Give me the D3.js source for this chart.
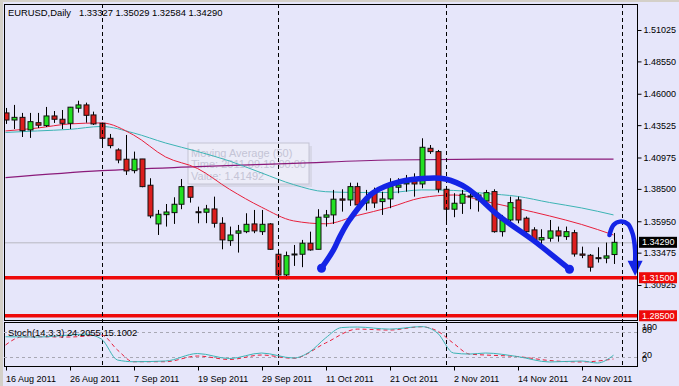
<!DOCTYPE html>
<html><head><meta charset="utf-8">
<script src="https://cdn.jsdelivr.net/npm/d3@7/dist/d3.min.js"></script>
<style>
html,body{margin:0;padding:0;background:#e6e6fa;}
svg{display:block;font-family:"Liberation Sans",Arial,sans-serif;}
</style></head>
<body><svg id="chart" width="679" height="386"></svg>
<script>
// ---------- DATA ----------
const title = "EURUSD,Daily";
const titleValues = "1.33327 1.35029 1.32584 1.34290";
const stochLabel = "Stoch(14,3,3) 24.2055 15.1002";

const dates = ["08-16","08-17","08-18","08-19","08-22","08-23","08-24","08-25","08-26","08-29","08-30","08-31",
"09-01","09-02","09-05","09-06","09-07","09-08","09-09","09-12","09-13","09-14","09-15","09-16","09-19","09-20","09-21","09-22","09-23","09-26","09-27","09-28","09-29","09-30",
"10-03","10-04","10-05","10-06","10-07","10-10","10-11","10-12","10-13","10-14","10-17","10-18","10-19","10-20","10-21","10-24","10-25","10-26","10-27","10-28","10-31",
"11-01","11-02","11-03","11-04","11-07","11-08","11-09","11-10","11-11","11-14","11-15","11-16","11-17","11-18","11-21","11-22","11-23","11-24","11-25","11-28","11-29","11-30"];

const open = [1.4449,1.4393,1.4414,1.4315,1.4372,1.4349,1.4425,1.4399,1.4367,1.4486,
1.4512,1.4433,1.4367,1.4249,1.4157,1.4084,1.3994,1.4086,1.3879,1.3574,
1.3647,1.3663,1.3729,1.3868,1.3670,1.3666,1.3692,1.3579,1.3442,1.3501,
1.3513,1.3574,1.3513,1.3574,1.3335,1.3172,1.3331,1.3335,1.3422,1.3374,
1.3627,1.3645,1.3771,1.3763,1.3868,1.3739,1.3818,1.3750,1.3771,1.3863,
1.3889,1.3907,1.3889,1.4170,1.4144,1.3847,1.3690,1.3737,1.3787,1.3802,
1.3755,1.3829,1.3513,1.3605,1.3763,1.3619,1.3527,1.3448,1.3461,1.3519,
1.3474,1.3505,1.3337,1.3327,1.3308,1.3304,1.33327];
const high = [1.4488,1.4512,1.4449,1.4449,1.4449,1.4496,1.4464,1.4472,1.4496,1.4545,
1.4530,1.4459,1.4372,1.4283,1.4170,1.4275,1.4144,1.4086,1.3934,1.3684,
1.3731,1.3784,1.3928,1.3873,1.3710,1.3724,1.3789,1.3627,1.3553,1.3566,
1.3658,1.3684,1.3684,1.3580,1.3369,1.3356,1.3408,1.3448,1.3513,1.3690,
1.3684,1.3842,1.3847,1.3899,1.3899,1.3842,1.3860,1.3828,1.3934,1.3934,
1.3960,1.3973,1.4249,1.4196,1.4157,1.3847,1.3816,1.3842,1.3855,1.3816,
1.3842,1.3847,1.3645,1.3789,1.3789,1.3632,1.3548,1.3532,1.3605,1.3553,
1.3553,1.3527,1.3395,1.3337,1.3390,1.3427,1.35029];
const low = [1.4362,1.4322,1.4259,1.4252,1.4330,1.4338,1.4370,1.4322,1.4322,1.4451,
1.4372,1.4354,1.4204,1.4170,1.4052,1.3960,1.3973,1.3863,1.3619,1.3487,
1.3553,1.3574,1.3690,1.3742,1.3579,1.3580,1.3545,1.3374,1.3401,1.3348,
1.3501,1.3501,1.3487,1.3369,1.3125,1.3138,1.3243,1.3233,1.3363,1.3374,
1.3553,1.3574,1.3671,1.3716,1.3710,1.3680,1.3700,1.3645,1.3698,1.3816,
1.3828,1.3789,1.3855,1.4126,1.3821,1.3584,1.3627,1.3653,1.3690,1.3671,
1.3742,1.3505,1.3474,1.3579,1.3579,1.3501,1.3422,1.3408,1.3434,1.3434,
1.3448,1.3316,1.3304,1.3198,1.3269,1.3264,1.32584];
const close = [1.4393,1.4414,1.4309,1.4380,1.4352,1.4425,1.4399,1.4367,1.4494,1.4512,
1.4430,1.4362,1.4249,1.4191,1.4078,1.3992,1.4084,1.3868,1.3637,1.3650,
1.3668,1.3729,1.3868,1.3784,1.3668,1.3692,1.3579,1.3448,1.3487,1.3519,
1.3571,1.3519,1.3571,1.3374,1.3172,1.3324,1.3337,1.3422,1.3369,1.3627,
1.3645,1.3769,1.3761,1.3868,1.3724,1.3771,1.3739,1.3771,1.3868,1.3881,
1.3899,1.3889,1.4178,1.4144,1.3847,1.3690,1.3737,1.3808,1.3795,1.3763,
1.3821,1.3513,1.3605,1.3742,1.3605,1.3513,1.3448,1.3466,1.3519,1.3479,
1.3513,1.3337,1.3327,1.3233,1.3303,1.3322,1.34290];

// moving averages (bar index -> value)
const maIdx = [0,4,8,12,16,20,24,28,32,36,40,44,48,52,56,60,64,68,72,76];
const maFast = [1.4307,1.4330,1.4362,1.4370,1.4275,1.4102,1.4011,1.3847,1.3706,1.3598,1.3575,1.3641,1.3704,1.3780,1.3802,1.3751,1.3696,1.3637,1.3570,1.3487];
const ma50 = [1.4295,1.4307,1.4319,1.4342,1.4291,1.4212,1.4145,1.4070,1.3976,1.3884,1.3828,1.3822,1.3822,1.3842,1.3838,1.3814,1.3791,1.3743,1.3700,1.3645];
const maSlowIdx = [0,12,24,36,48,60,76];
const maSlow = [1.3939,1.3994,1.4025,1.4051,1.4078,1.4084,1.4084];

// stochastic (main + signal)
const stMainIdx = [0,4,8,10,12,14,16,20,24,28,32,36,38,40,42,44,48,52,54,56,58,60,64,68,72,74,76];
const stMain = [68.6,68,72.7,75,63,12.7,8.6,10.3,28.3,16.3,29.5,17.5,32,65.5,90.7,92,87,93,77.5,29.5,27,29.5,21,8,10.3,5.5,24.2];
const stSigIdx = [0,2,4,8,12,14,16,20,24,28,32,36,40,44,48,52,54,56,58,60,64,68,72,76];
const stSig = [48.7,68,68.6,68,72.7,36.7,8.6,8.6,22.3,14,24.7,16.8,53.5,87,84.7,92.6,82.3,52.8,27,24.7,21,11.5,8,15.1];
const stLevels = [80,20];
const stAxisLabels = [100,80,20,0];

// axes
const priceTicks = [1.51025,1.48550,1.46000,1.43525,1.40975,1.38500,1.35950,1.33475,1.30925];
const dateTickIdx = [0,8,16,24,32,40,48,56,64,72];
const dateTickLabels = ["16 Aug 2011","26 Aug 2011","7 Sep 2011","19 Sep 2011","29 Sep 2011","11 Oct 2011","21 Oct 2011","2 Nov 2011","14 Nov 2011","24 Nov 2011"];
const separatorIdx = [12,34,55,77];

// horizontal levels
const currentPrice = 1.34290;
const supportLevels = [1.31500,1.28500];

// annotations (bar index, price)
const arcIdx = [39.5,41.0,41.8,43.0,45.9,49.3,52.7,55.0,57.7,61.8,65.9,70.5];
const arcPrice = [1.3225,1.3369,1.3474,1.3605,1.3818,1.3907,1.3934,1.3928,1.3855,1.3631,1.3448,1.3217];
const arrowIdx = [75.5,76.0,76.8,77.8,78.4,78.7,78.7];
const arrowPrice = [1.3487,1.3566,1.3592,1.3574,1.3495,1.3369,1.3267];
const arrowTip = [78.7,1.3164];

const tooltipLines = ["Moving Average (50)","Time: 2011.09.19 00:00","Value: 1.41492"];

// ---------- LAYOUT ----------
const L=4, R=637, T=4, B=320, sT=322, sB=366;
const svg = d3.select("#chart");
const x = d3.scaleLinear().domain([0,77]).range([5.5,621.5]);
const y = d3.scaleLinear().domain([1.28167,1.53074]).range([B,T]);
const ys = d3.scaleLinear().domain([0,100]).range([365.3,323.7]);

svg.append("rect").attr("width",679).attr("height",386).attr("fill","#e6e6fa");
// window edge strips
svg.append("rect").attr("x",0).attr("y",0).attr("width",3).attr("height",386).attr("fill","#d4d0c8");
svg.append("rect").attr("x",0).attr("y",0).attr("width",679).attr("height",2).attr("fill","#d4d0c8");

const defs = svg.append("defs");
defs.append("clipPath").attr("id","cm").append("rect").attr("x",L).attr("y",T).attr("width",R-L).attr("height",B-T);
defs.append("clipPath").attr("id","cs").append("rect").attr("x",L).attr("y",sT).attr("width",R-L).attr("height",sB-sT);

const main = svg.append("g").attr("clip-path","url(#cm)");

// tooltip ghost
const tt = main.append("g");
tt.append("rect").attr("x",191).attr("y",146).attr("width",121).attr("height",41).attr("fill","#cfcfdc").attr("opacity",0.6);
tt.append("rect").attr("x",188).attr("y",143).attr("width",121).attr("height",41).attr("fill","#ececf8").attr("stroke","#c4c4d4");
tt.selectAll("text").data(tooltipLines).join("text")
  .attr("x",191).attr("y",(d,i)=>157+i*11.3).attr("font-size",11).attr("fill","#c4c4d6").text(d=>d);

// current price line
main.append("line").attr("x1",L).attr("x2",R).attr("y1",y(currentPrice)+0.5).attr("y2",y(currentPrice)+0.5)
  .attr("stroke","#b8b8c0").attr("stroke-width",1);

// moving averages
const lineGen = d3.line().curve(d3.curveMonotoneX);
main.append("path").attr("d",lineGen(maSlowIdx.map((d,i)=>[x(d),y(maSlow[i])])))
  .attr("fill","none").attr("stroke","#8a1a7a").attr("stroke-width",1.2);
main.append("path").attr("d",lineGen(maIdx.map((d,i)=>[x(d),y(ma50[i])])))
  .attr("fill","none").attr("stroke","#3cb4b4").attr("stroke-width",1);
main.append("path").attr("d",lineGen(maIdx.map((d,i)=>[x(d),y(maFast[i])])))
  .attr("fill","none").attr("stroke","#e8203c").attr("stroke-width",1);

// candles
const bars = d3.range(open.length);
const cg = main.append("g");
cg.selectAll("line.w").data(bars).join("line").attr("class","w")
  .attr("x1",i=>Math.round(x(i))+0.5).attr("x2",i=>Math.round(x(i))+0.5)
  .attr("y1",i=>y(high[i])).attr("y2",i=>y(low[i]))
  .attr("stroke","#000").attr("stroke-width",1);
cg.selectAll("rect.b").data(bars).join("rect").attr("class","b")
  .attr("x",i=>Math.round(x(i))-2)
  .attr("width",5)
  .attr("y",i=>y(Math.max(open[i],close[i])))
  .attr("height",i=>Math.max(1,Math.abs(y(open[i])-y(close[i]))))
  .attr("fill",i=>close[i]>=open[i]?"#22e022":"#dc1e1e")
  .attr("stroke","#111").attr("stroke-width",1);

// support lines
main.selectAll("line.s").data(supportLevels).join("line").attr("class","s")
  .attr("x1",L).attr("x2",R).attr("y1",d=>y(d)).attr("y2",d=>y(d))
  .attr("stroke","#ee0a0a").attr("stroke-width",3.5);

// separators (both panels)
svg.selectAll("line.sep").data(separatorIdx).join("line").attr("class","sep")
  .attr("x1",d=>Math.round(x(d))+0.5).attr("x2",d=>Math.round(x(d))+0.5)
  .attr("y1",T).attr("y2",sB)
  .attr("stroke","#000").attr("stroke-width",1).attr("stroke-dasharray","4,3");

// blue annotations
const curve = d3.line().curve(d3.curveCatmullRom.alpha(0.5));
const blue = "#1424e6";
svg.append("path").attr("d",curve(arcIdx.map((d,i)=>[x(d),y(arcPrice[i])])))
  .attr("fill","none").attr("stroke",blue).attr("stroke-width",5.5).attr("stroke-linecap","round");
svg.selectAll("circle.e").data([0,arcIdx.length-1]).join("circle").attr("class","e")
  .attr("cx",i=>x(arcIdx[i])).attr("cy",i=>y(arcPrice[i])).attr("r",4.5).attr("fill",blue);
svg.append("path").attr("d",curve(arrowIdx.map((d,i)=>[x(d),y(arrowPrice[i])])))
  .attr("fill","none").attr("stroke",blue).attr("stroke-width",4.5).attr("stroke-linecap","round");
{
  const tx = x(arrowTip[0]), ty = y(arrowTip[1]), by = y(arrowPrice[arrowPrice.length-1]);
  svg.append("path").attr("d",`M${tx-7.5},${by-2}L${tx+7.5},${by-2}L${tx},${ty}Z`).attr("fill",blue);
}

// frames
svg.append("rect").attr("x",L+0.5).attr("y",T+0.5).attr("width",R-L).attr("height",B-T)
  .attr("fill","none").attr("stroke","#000");
svg.append("rect").attr("x",L+0.5).attr("y",sT+0.5).attr("width",R-L).attr("height",sB-sT)
  .attr("fill","none").attr("stroke","#000");

// title
svg.append("text").attr("x",8).attr("y",16).attr("font-size",9.4).attr("fill","#000").text(title);
svg.append("text").attr("x",79).attr("y",16).attr("font-size",9.4).attr("fill","#000").text(titleValues);

// right price axis
const ax = svg.append("g").attr("transform",`translate(${R+0.5},0)`)
  .call(d3.axisRight(y).tickValues(priceTicks).tickFormat(d3.format(".5f")).tickSize(4).tickPadding(2));
ax.select(".domain").remove();
ax.selectAll("text").attr("font-size",9).attr("font-family","Liberation Sans, Arial, sans-serif").attr("fill","#000");
ax.selectAll("line").attr("stroke","#000");

// price labels
function priceBox(v, bg){
  const g = svg.append("g");
  g.append("rect").attr("x",639).attr("y",y(v)-5.5).attr("width",38).attr("height",11).attr("fill",bg);
  g.append("text").attr("x",642).attr("y",y(v)).attr("dy","0.35em").attr("font-size",9).attr("fill","#fff").text(d3.format(".5f")(v));
}
priceBox(currentPrice,"#000");
supportLevels.forEach(v=>priceBox(v,"#ee0a0a"));

// stochastic panel
const sp = svg.append("g").attr("clip-path","url(#cs)");
sp.selectAll("line.lv").data(stLevels).join("line").attr("class","lv")
  .attr("x1",L).attr("x2",R).attr("y1",d=>Math.round(ys(d))+0.5).attr("y2",d=>Math.round(ys(d))+0.5)
  .attr("stroke","#a8a8b4").attr("stroke-dasharray","3,3");
sp.append("path").attr("d",lineGen(stSigIdx.map((d,i)=>[x(d),ys(stSig[i])])))
  .attr("fill","none").attr("stroke","#e8203c").attr("stroke-width",1).attr("stroke-dasharray","4,3");
sp.append("path").attr("d",lineGen(stMainIdx.map((d,i)=>[x(d),ys(stMain[i])])))
  .attr("fill","none").attr("stroke","#3cb4b4").attr("stroke-width",1);
svg.append("text").attr("x",8).attr("y",336).attr("font-size",9.4).attr("fill","#000").text(stochLabel);
const stLabelY = {100:327,80:330,20:355,0:359};
svg.selectAll("text.sl").data(stAxisLabels).join("text").attr("class","sl")
  .attr("x",642).attr("y",d=>stLabelY[d]).attr("dy","0.35em").attr("font-size",9).attr("fill","#000").text(d=>d);

// date axis
const dx = svg.append("g").attr("transform",`translate(0,${sB+0.5})`)
  .call(d3.axisBottom(x).tickValues(dateTickIdx).tickFormat((d,i)=>dateTickLabels[i]).tickSize(4));
dx.select(".domain").remove();
dx.selectAll(".tick line").attr("stroke","#000").attr("transform","translate(0.5,0)");
dx.selectAll("text").attr("text-anchor","start").attr("x",0).attr("dy","0.95em")
  .attr("font-size",9).attr("font-family","Liberation Sans, Arial, sans-serif").attr("fill","#000");
</script></body></html>
